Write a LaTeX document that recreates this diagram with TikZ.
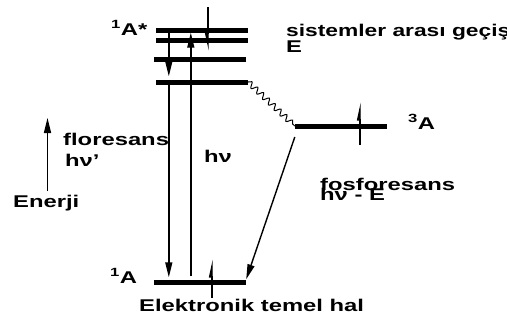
\documentclass[tikz,border=0pt]{standalone}
\usepackage{fontspec}
\setmainfont[FakeStretch=1.4]{Liberation Sans}
\newfontfamily\narrowsans[FakeStretch=1.34]{Liberation Sans}
\usetikzlibrary{arrows.meta,decorations.pathmorphing,positioning,calc}

\begin{document}
\begin{tikzpicture}[x=1pt,y=-1pt,
    level/.style={fill=black, minimum width=92pt, minimum height=5pt, inner sep=0pt},
    lbl/.style={anchor=base west, inner sep=0pt, font=\fontsize{17}{18}\selectfont\bfseries},
    arr/.style={line width=1.4pt, -{Triangle[length=15pt,width=7pt]}},
    spin/.style={line width=1.4pt, -{Triangle[harpoon,length=15pt,width=6pt]}}]
    \useasboundingbox (0,0) rectangle (507,325);
    % enerji seviyeleri
    \node[level] (S1a) at (202,30) {};
    \node[level] (S1b) at (202,40) {};
    \node[level] (S1c) at (200,59) {};
    \node[level] (S1d) at (202,82) {};
    \node[level] (T) at (341,126) {};
    \node[level] (S0) at (200,282) {};
    % gecisler
    \draw[arr, shorten >=3pt] ([xshift=13pt]S1a.south west) -- ([xshift=13pt]S1d.north west);
    \draw[arr, shorten >=2pt] ([xshift=13pt]S1d.south west) -- ([xshift=15pt]S0.north west);
    \draw[arr, shorten <=3pt] ([xshift=37pt]S0.north west) -- ([xshift=35pt]S1a.south west);
    \draw[line width=1pt, decorate, decoration={snake, amplitude=2.8pt, segment length=8pt}] (S1d.east) -- (T.west);
    \draw[arr] ([yshift=-11pt]T.west) -- (S0.north east);
    % spinler
    \coordinate (e1a) at (208,7);
    \coordinate (e1b) at (208,51);
    \coordinate (e2a) at (212,298);
    \coordinate (e2b) at (212,259);
    \coordinate (e3a) at (360,145);
    \coordinate (e3b) at (360,102);
    \draw[spin, -{Triangle[harpoon,swap,length=15pt,width=6pt]}] (e1a) -- (e1b);
    \draw[spin] (e2a) -- (e2b);
    \draw[spin] (e3a) -- (e3b);
    % enerji oku
    \coordinate (enbot) at (47.5,191);
    \coordinate (entop) at (47.5,118);
    \draw[arr] (enbot) -- (entop);
    % etiketler
    \node[lbl] (S1lbl) at (111,35) {\textsuperscript{1}A*};
    \node[lbl] (isc) at (286,36) {\narrowsans sistemler arası geçiş};
    \node[lbl] (iscE) at (286,52) {E};
    \node[lbl] (fl) at (63,145) {floresans};
    \node[lbl] (flhv) at (65,166) {hν'};
    \node[lbl] (abs) at (204,162) {hν};
    \node[lbl] (en) at (13,207) {Enerji};
    \node[lbl] (Tlbl) at (408,129) {\textsuperscript{3}A};
    \node[lbl] (ph) at (320,190) {fosforesans};
    \node[lbl] (phhv) at (320,200) {hν - E};
    \node[lbl] (S0lbl) at (110,283) {\textsuperscript{1}A};
    \node[lbl] (gs) at (139,311) {Elektronik temel hal};
\end{tikzpicture}
\end{document}
